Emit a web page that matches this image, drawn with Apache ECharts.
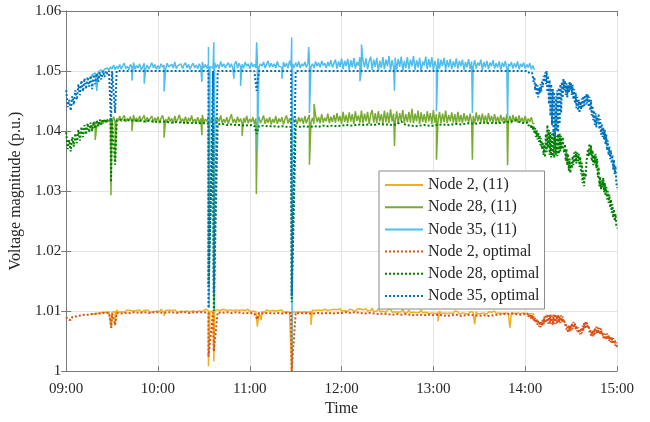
<!DOCTYPE html>
<html><head><meta charset="utf-8">
<script src="https://cdn.jsdelivr.net/npm/echarts@6/dist/echarts.min.js"></script>
<style>html,body{margin:0;padding:0;background:#fff}#c{width:650px;height:422px}</style>
</head><body><div id="c"></div>
<script>
const xTickLabels = ['09:00','10:00','11:00','12:00','13:00','14:00','15:00'];
const yTickLabels = ['1','1.01','1.02','1.03','1.04','1.05','1.06'];
const seriesNames = ['Node 2, (11)','Node 28, (11)','Node 35, (11)','Node 2, optimal','Node 28, optimal','Node 35, optimal'];

// (11) series: one value per minute after 09:00, minutes 16..306
const t11Start = 16, t11Step = 1;
const node35_11 = [
1.0488,1.0494,1.0491,1.0497,1.0495,1.0499,1.0496,1.0502,1.0498,1.0503,
1.0500,1.0505,1.0501,1.0507,1.0503,1.0510,1.0502,1.0508,1.0504,1.0511,
1.0503,1.0509,1.0513,1.0504,1.0508,1.0502,1.0511,1.0506,1.0514,1.0503,
1.0509,1.0505,1.0512,1.0502,1.0507,1.0513,1.0504,1.0510,1.0503,1.0508,
1.0514,1.0505,1.0511,1.0503,1.0509,1.0504,1.0512,1.0506,1.0510,1.0503,
1.0513,1.0507,1.0504,1.0511,1.0505,1.0515,1.0504,1.0509,1.0506,1.0512,
1.0504,1.0510,1.0514,1.0505,1.0511,1.0503,1.0509,1.0513,1.0505,1.0510,
1.0504,1.0512,1.0506,1.0515,1.0505,1.0511,1.0504,1.0513,1.0507,1.0510,
1.0505,1.0514,1.0506,1.0511,1.0504,1.0516,1.0507,1.0512,1.0505,1.0510,
1.0514,1.0506,1.0512,1.0504,1.0511,1.0516,1.0505,1.0513,1.0507,1.0511,
1.0505,1.0515,1.0508,1.0512,1.0504,1.0514,1.0507,1.0511,1.0505,1.0516,
1.0506,1.0512,1.0508,1.0515,1.0505,1.0511,1.0517,1.0506,1.0513,1.0507,
1.0512,1.0505,1.0516,1.0508,1.0511,1.0506,1.0515,1.0507,1.0513,1.0505,
1.0517,1.0508,1.0512,1.0506,1.0514,1.0507,1.0516,1.0505,1.0512,1.0508,
1.0515,1.0506,1.0513,1.0518,1.0507,1.0512,1.0505,1.0516,1.0508,1.0514,
1.0506,1.0517,1.0509,1.0513,1.0505,1.0515,1.0508,1.0518,1.0506,1.0513,
1.0519,1.0504,1.0516,1.0507,1.0521,1.0503,1.0517,1.0508,1.0520,1.0502,
1.0518,1.0506,1.0522,1.0504,1.0515,1.0509,1.0523,1.0501,1.0518,1.0506,
1.0521,1.0503,1.0516,1.0524,1.0502,1.0519,1.0507,1.0522,1.0500,1.0517,
1.0505,1.0523,1.0503,1.0519,1.0508,1.0525,1.0501,1.0518,1.0506,1.0522,
1.0502,1.0520,1.0507,1.0524,1.0500,1.0517,1.0505,1.0523,1.0503,1.0519,
1.0508,1.0525,1.0502,1.0518,1.0506,1.0522,1.0499,1.0516,1.0509,1.0524,
1.0503,1.0520,1.0506,1.0523,1.0501,1.0517,1.0507,1.0521,1.0504,1.0519,
1.0508,1.0522,1.0502,1.0518,1.0506,1.0520,1.0503,1.0516,1.0507,1.0521,
1.0504,1.0517,1.0508,1.0519,1.0502,1.0515,1.0506,1.0520,1.0503,1.0516,
1.0507,1.0518,1.0504,1.0514,1.0509,1.0519,1.0502,1.0515,1.0506,1.0517,
1.0503,1.0514,1.0508,1.0518,1.0504,1.0513,1.0506,1.0516,1.0502,1.0514,
1.0507,1.0517,1.0503,1.0512,1.0508,1.0515,1.0504,1.0513,1.0506,1.0516,
1.0503,1.0512,1.0507,1.0514,1.0504,1.0511,1.0506,1.0513,1.0503,1.0509,
1.0502];
const node28_11 = [
1.0402,1.0408,1.0405,1.0411,1.0408,1.0414,1.0410,1.0416,1.0412,1.0418,
1.0414,1.0420,1.0415,1.0422,1.0416,1.0424,1.0415,1.0421,1.0417,1.0425,
1.0416,1.0422,1.0426,1.0415,1.0421,1.0417,1.0424,1.0414,1.0427,1.0416,
1.0422,1.0415,1.0425,1.0417,1.0420,1.0426,1.0414,1.0423,1.0416,1.0421,
1.0425,1.0414,1.0422,1.0416,1.0424,1.0413,1.0421,1.0426,1.0415,1.0420,
1.0414,1.0424,1.0416,1.0421,1.0413,1.0425,1.0415,1.0420,1.0427,1.0414,
1.0421,1.0415,1.0424,1.0413,1.0422,1.0416,1.0426,1.0414,1.0420,1.0415,
1.0423,1.0413,1.0421,1.0427,1.0414,1.0420,1.0416,1.0425,1.0413,1.0422,
1.0415,1.0424,1.0412,1.0421,1.0416,1.0426,1.0413,1.0420,1.0414,1.0423,
1.0412,1.0421,1.0428,1.0414,1.0420,1.0413,1.0424,1.0415,1.0421,1.0412,
1.0422,1.0414,1.0425,1.0413,1.0420,1.0415,1.0423,1.0412,1.0421,1.0414,
1.0424,1.0413,1.0419,1.0426,1.0412,1.0421,1.0414,1.0423,1.0411,1.0420,
1.0414,1.0425,1.0412,1.0421,1.0415,1.0423,1.0411,1.0420,1.0426,1.0413,
1.0421,1.0412,1.0424,1.0414,1.0420,1.0411,1.0423,1.0415,1.0422,1.0412,
1.0425,1.0413,1.0421,1.0427,1.0414,1.0422,1.0412,1.0426,1.0415,1.0423,
1.0413,1.0428,1.0414,1.0422,1.0416,1.0429,1.0413,1.0424,1.0415,1.0427,
1.0414,1.0430,1.0416,1.0425,1.0412,1.0432,1.0415,1.0427,1.0413,1.0431,
1.0416,1.0428,1.0412,1.0433,1.0417,1.0426,1.0414,1.0434,1.0413,1.0429,
1.0416,1.0432,1.0412,1.0427,1.0435,1.0414,1.0430,1.0413,1.0433,1.0416,
1.0428,1.0412,1.0434,1.0415,1.0431,1.0413,1.0436,1.0416,1.0429,1.0414,
1.0433,1.0412,1.0430,1.0417,1.0435,1.0413,1.0428,1.0415,1.0432,1.0414,
1.0437,1.0413,1.0429,1.0416,1.0434,1.0412,1.0431,1.0415,1.0428,1.0413,
1.0433,1.0416,1.0430,1.0412,1.0435,1.0414,1.0428,1.0416,1.0432,1.0413,
1.0429,1.0415,1.0434,1.0413,1.0427,1.0416,1.0431,1.0414,1.0428,1.0412,
1.0432,1.0415,1.0427,1.0413,1.0430,1.0416,1.0426,1.0414,1.0429,1.0415,
1.0425,1.0413,1.0431,1.0416,1.0427,1.0414,1.0429,1.0415,1.0426,1.0413,
1.0430,1.0416,1.0425,1.0414,1.0428,1.0415,1.0424,1.0413,1.0427,1.0416,
1.0423,1.0414,1.0428,1.0415,1.0425,1.0413,1.0427,1.0416,1.0424,1.0414,
1.0426,1.0415,1.0422,1.0414,1.0425,1.0413,1.0421,1.0415,1.0423,1.0413,
1.0412];
const node2_11 = [
1.0094,1.0097,1.0095,1.0098,1.0096,1.0099,1.0097,1.0100,1.0098,1.0100,
1.0098,1.0101,1.0099,1.0100,1.0098,1.0101,1.0099,1.0102,1.0098,1.0100,
1.0099,1.0101,1.0098,1.0100,1.0102,1.0099,1.0101,1.0098,1.0100,1.0099,
1.0101,1.0099,1.0102,1.0098,1.0100,1.0101,1.0099,1.0102,1.0100,1.0098,
1.0101,1.0099,1.0102,1.0100,1.0101,1.0099,1.0103,1.0100,1.0098,1.0101,
1.0099,1.0102,1.0100,1.0101,1.0099,1.0102,1.0100,1.0098,1.0101,1.0100,
1.0102,1.0099,1.0101,1.0100,1.0103,1.0099,1.0101,1.0100,1.0102,1.0099,
1.0101,1.0100,1.0102,1.0099,1.0101,1.0103,1.0100,1.0101,1.0099,1.0102,
1.0100,1.0101,1.0099,1.0102,1.0100,1.0101,1.0099,1.0103,1.0100,1.0101,
1.0099,1.0102,1.0100,1.0101,1.0098,1.0102,1.0100,1.0101,1.0099,1.0102,
1.0100,1.0101,1.0098,1.0103,1.0099,1.0101,1.0100,1.0102,1.0099,1.0100,
1.0098,1.0101,1.0099,1.0100,1.0098,1.0102,1.0099,1.0100,1.0098,1.0101,
1.0099,1.0100,1.0098,1.0101,1.0099,1.0102,1.0098,1.0100,1.0099,1.0101,
1.0098,1.0100,1.0099,1.0101,1.0098,1.0100,1.0099,1.0102,1.0098,1.0100,
1.0099,1.0101,1.0098,1.0100,1.0099,1.0102,1.0100,1.0101,1.0099,1.0102,
1.0100,1.0101,1.0099,1.0103,1.0100,1.0101,1.0099,1.0102,1.0100,1.0103,
1.0100,1.0102,1.0099,1.0104,1.0100,1.0102,1.0101,1.0104,1.0099,1.0103,
1.0100,1.0102,1.0105,1.0099,1.0103,1.0100,1.0104,1.0101,1.0102,1.0099,
1.0104,1.0100,1.0103,1.0101,1.0105,1.0099,1.0102,1.0100,1.0104,1.0099,
1.0102,1.0100,1.0103,1.0098,1.0102,1.0099,1.0104,1.0098,1.0101,1.0099,
1.0102,1.0098,1.0101,1.0099,1.0103,1.0097,1.0100,1.0098,1.0102,1.0097,
1.0100,1.0098,1.0101,1.0097,1.0100,1.0098,1.0102,1.0097,1.0099,1.0098,
1.0101,1.0096,1.0099,1.0097,1.0100,1.0096,1.0099,1.0097,1.0100,1.0096,
1.0098,1.0097,1.0100,1.0096,1.0099,1.0097,1.0098,1.0096,1.0100,1.0097,
1.0099,1.0095,1.0098,1.0097,1.0099,1.0096,1.0098,1.0095,1.0099,1.0096,
1.0098,1.0097,1.0099,1.0095,1.0098,1.0096,1.0099,1.0097,1.0098,1.0095,
1.0099,1.0096,1.0098,1.0097,1.0100,1.0096,1.0098,1.0097,1.0099,1.0096,
1.0098,1.0097,1.0099,1.0096,1.0098,1.0097,1.0100,1.0096,1.0099,1.0097,
1.0098,1.0096,1.0099,1.0097,1.0098,1.0096,1.0097,1.0095,1.0097,1.0096,
1.0094];

// short transients of the (11) series: [minute, value]
const spikes35_11 = [[20,1.0467],[43,1.0484],[51,1.0479],[64,1.0466],[88.7,1.0482],[93,1.0540],[93.4,1.0105],[96.5,1.0548],[96.9,1.0100],[109.6,1.0487],[114,1.0475],[124.5,1.0548],[125,1.0367],[141,1.0487],[147.4,1.0556],[147.6,1.0010],[158.5,1.0540],[159,1.0430],[192,1.0483],[193,1.0544],[214.6,1.0467],[242,1.0433],[265.5,1.0430],[288.5,1.0421]];
const spikes28_11 = [[19,1.0385],[29.3,1.0293],[32,1.0350],[43,1.0400],[64,1.0389],[88.7,1.0393],[96.5,1.0120],[115,1.0392],[124.3,1.0295],[159,1.0344],[162,1.0445],[214.6,1.0375],[242,1.0352],[265.5,1.0352],[288.5,1.0343]];
const spikes2_11 = [[29.5,1.0072],[32,1.0076],[64,1.0092],[93,1.0008],[96.5,1.0016],[125,1.0074],[127.5,1.0085],[147.4,1.0000],[160,1.0077],[243,1.0083],[267,1.0078],[290,1.0072]];

// optimal series: minutes 0..29 every 1 min, 30..300 every 3 min, 300.5..360 every 0.5 min
const node35_opt = [
1.0468,1.0440,1.0452,1.0434,1.0458,1.0444,1.0468,1.0452,1.0478,1.0460,
1.0484,1.0466,1.0488,1.0470,1.0490,1.0474,1.0492,1.0470,1.0494,1.0478,
1.0496,1.0482,1.0498,1.0486,1.0500,1.0490,1.0500,1.0495,1.0500,1.0499,
1.0500,1.0500,1.0500,1.0500,1.0500,1.0500,1.0500,1.0500,1.0500,1.0500,
1.0500,1.0500,1.0500,1.0500,1.0500,1.0500,1.0500,1.0500,1.0500,1.0500,
1.0500,1.0500,1.0500,1.0500,1.0500,1.0500,1.0500,1.0500,1.0500,1.0500,
1.0500,1.0500,1.0500,1.0500,1.0500,1.0500,1.0500,1.0500,1.0500,1.0500,
1.0500,1.0500,1.0500,1.0500,1.0500,1.0500,1.0500,1.0500,1.0500,1.0500,
1.0500,1.0500,1.0500,1.0500,1.0500,1.0500,1.0500,1.0500,1.0500,1.0500,
1.0500,1.0500,1.0500,1.0500,1.0500,1.0500,1.0500,1.0500,1.0500,1.0500,
1.0500,1.0500,1.0500,1.0500,1.0500,1.0500,1.0500,1.0500,1.0500,1.0500,
1.0500,1.0500,1.0500,1.0500,1.0500,1.0500,1.0500,1.0500,1.0500,1.0500,
1.0500,
1.0500,1.0499,1.0500,1.0497,1.0500,1.0496,1.0499,1.0494,1.0497,1.0490,
1.0482,1.0490,1.0468,1.0480,1.0460,1.0476,1.0456,1.0472,1.0463,1.0478,
1.0466,1.0484,1.0473,1.0492,1.0482,1.0498,1.0478,1.0500,1.0465,1.0492,
1.0445,1.0485,1.0425,1.0478,1.0410,1.0470,1.0395,1.0465,1.0390,1.0458,
1.0400,1.0468,1.0398,1.0472,1.0412,1.0478,1.0430,1.0482,1.0455,1.0487,
1.0468,1.0484,1.0460,1.0480,1.0456,1.0476,1.0464,1.0482,1.0468,1.0480,
1.0460,1.0477,1.0453,1.0470,1.0446,1.0464,1.0438,1.0457,1.0434,1.0452,
1.0430,1.0449,1.0436,1.0454,1.0438,1.0458,1.0442,1.0460,1.0444,1.0462,
1.0446,1.0461,1.0440,1.0457,1.0434,1.0452,1.0426,1.0442,1.0418,1.0434,
1.0410,1.0430,1.0406,1.0424,1.0413,1.0429,1.0403,1.0420,1.0394,1.0412,
1.0390,1.0406,1.0386,1.0402,1.0378,1.0394,1.0368,1.0384,1.0360,1.0374,
1.0353,1.0368,1.0346,1.0360,1.0336,1.0352,1.0328,1.0342,1.0316,1.0305];
const node28_opt = [
1.0398,1.0370,1.0385,1.0366,1.0390,1.0374,1.0396,1.0380,1.0402,1.0384,
1.0407,1.0390,1.0410,1.0394,1.0413,1.0398,1.0414,1.0400,1.0416,1.0404,
1.0418,1.0408,1.0419,1.0411,1.0420,1.0414,1.0420,1.0416,1.0419,1.0418,
1.0418,1.0417,1.0419,1.0418,1.0418,1.0417,1.0417,1.0416,1.0417,1.0416,
1.0415,1.0416,1.0415,1.0414,1.0415,1.0414,1.0414,1.0413,1.0414,1.0413,
1.0413,1.0412,1.0413,1.0411,1.0412,1.0410,1.0411,1.0410,1.0410,1.0409,
1.0410,1.0409,1.0408,1.0409,1.0408,1.0408,1.0407,1.0408,1.0407,1.0407,
1.0408,1.0407,1.0408,1.0407,1.0408,1.0407,1.0409,1.0408,1.0409,1.0408,
1.0409,1.0410,1.0409,1.0410,1.0411,1.0410,1.0411,1.0410,1.0412,1.0411,
1.0411,1.0410,1.0411,1.0416,1.0410,1.0409,1.0408,1.0409,1.0410,1.0409,
1.0409,1.0410,1.0411,1.0410,1.0411,1.0412,1.0411,1.0412,1.0413,1.0412,
1.0413,1.0414,1.0413,1.0414,1.0413,1.0414,1.0415,1.0416,1.0418,1.0414,
1.0413,
1.0413,1.0410,1.0414,1.0409,1.0412,1.0407,1.0411,1.0404,1.0410,1.0402,
1.0408,1.0396,1.0405,1.0390,1.0401,1.0386,1.0397,1.0382,1.0393,1.0376,
1.0388,1.0370,1.0382,1.0360,1.0377,1.0356,1.0395,1.0365,1.0410,1.0372,
1.0402,1.0360,1.0398,1.0356,1.0395,1.0358,1.0400,1.0355,1.0396,1.0360,
1.0392,1.0358,1.0395,1.0362,1.0396,1.0366,1.0392,1.0370,1.0390,1.0372,
1.0364,1.0378,1.0350,1.0370,1.0343,1.0362,1.0334,1.0354,1.0330,1.0348,
1.0338,1.0358,1.0343,1.0364,1.0348,1.0366,1.0346,1.0364,1.0350,1.0362,
1.0340,1.0357,1.0328,1.0347,1.0313,1.0334,1.0308,1.0330,1.0323,1.0347,
1.0348,1.0370,1.0358,1.0379,1.0360,1.0376,1.0350,1.0368,1.0343,1.0360,
1.0346,1.0362,1.0338,1.0354,1.0323,1.0340,1.0308,1.0324,1.0303,1.0318,
1.0306,1.0322,1.0298,1.0314,1.0292,1.0307,1.0286,1.0300,1.0280,1.0294,
1.0272,1.0286,1.0264,1.0278,1.0256,1.0270,1.0250,1.0262,1.0244,1.0238];
const node2_opt = [
1.0090,1.0086,1.0088,1.0085,1.0090,1.0087,1.0091,1.0088,1.0092,1.0089,
1.0093,1.0090,1.0094,1.0091,1.0094,1.0092,1.0095,1.0093,1.0095,1.0093,
1.0096,1.0094,1.0096,1.0095,1.0097,1.0095,1.0097,1.0096,1.0097,1.0097,
1.0096,1.0097,1.0096,1.0097,1.0097,1.0098,1.0097,1.0098,1.0097,1.0098,
1.0098,1.0097,1.0098,1.0098,1.0097,1.0098,1.0098,1.0097,1.0098,1.0098,
1.0098,1.0097,1.0098,1.0098,1.0097,1.0098,1.0097,1.0098,1.0097,1.0096,
1.0097,1.0096,1.0097,1.0096,1.0097,1.0096,1.0097,1.0096,1.0097,1.0097,
1.0097,1.0096,1.0097,1.0096,1.0096,1.0097,1.0096,1.0097,1.0096,1.0097,
1.0097,1.0098,1.0097,1.0098,1.0097,1.0096,1.0097,1.0096,1.0095,1.0096,
1.0095,1.0094,1.0095,1.0094,1.0095,1.0094,1.0093,1.0094,1.0093,1.0094,
1.0093,1.0094,1.0093,1.0092,1.0093,1.0094,1.0092,1.0093,1.0094,1.0093,
1.0092,1.0093,1.0092,1.0093,1.0094,1.0095,1.0095,1.0096,1.0095,1.0094,
1.0095,
1.0097,1.0092,1.0096,1.0090,1.0095,1.0089,1.0094,1.0087,1.0093,1.0086,
1.0091,1.0083,1.0089,1.0080,1.0087,1.0077,1.0085,1.0074,1.0083,1.0073,
1.0083,1.0075,1.0087,1.0078,1.0091,1.0080,1.0094,1.0081,1.0095,1.0079,
1.0093,1.0078,1.0094,1.0079,1.0092,1.0077,1.0094,1.0079,1.0095,1.0078,
1.0093,1.0079,1.0094,1.0081,1.0092,1.0080,1.0093,1.0082,1.0091,1.0081,
1.0086,1.0076,1.0080,1.0069,1.0074,1.0064,1.0076,1.0066,1.0077,1.0068,
1.0080,1.0070,1.0082,1.0072,1.0080,1.0069,1.0076,1.0066,1.0073,1.0063,
1.0070,1.0061,1.0072,1.0063,1.0076,1.0067,1.0080,1.0071,1.0083,1.0073,
1.0081,1.0071,1.0076,1.0065,1.0069,1.0059,1.0067,1.0058,1.0069,1.0060,
1.0072,1.0062,1.0074,1.0063,1.0073,1.0063,1.0072,1.0061,1.0071,1.0061,
1.0065,1.0055,1.0063,1.0053,1.0062,1.0052,1.0063,1.0053,1.0060,1.0050,
1.0058,1.0048,1.0057,1.0047,1.0055,1.0045,1.0052,1.0042,1.0048,1.0040];
const spikes35_opt = [[29.3,1.0416],[32,1.0430],[93,1.0105],[96.5,1.0130],[124.5,1.0467],[147.4,1.0125]];
const spikes28_opt = [[29.3,1.0315],[32,1.0344],[93,1.0140],[96.5,1.0100],[124.5,1.0395],[147.4,1.0115]];
const spikes2_opt = [[29.5,1.0072],[32,1.0077],[93,1.0024],[96.5,1.0033],[125,1.0086],[147.4,1.0000]];

const times11 = node2_11.map((_, i) => t11Start + i * t11Step);
const timesOpt = [];
for (let t = 0; t <= 29; t += 1) timesOpt.push(t);
for (let t = 30; t <= 300; t += 3) timesOpt.push(t);
for (let k = 1; k <= 120; k++) timesOpt.push(300 + k * 0.5);

function build(times, vals, spikes) {
  const pts = times.map((t, i) => [t, vals[i]]);
  spikes.forEach(s => pts.push(s));
  pts.sort((a, b) => a[0] - b[0]);
  return pts;
}

const FONT = 'Liberation Serif';
const colors = ['#EDB120', '#77AC30', '#4DBEEE', '#D95319', '#008000', '#0072BD'];
const dataSets = [
  build(times11, node2_11, spikes2_11),
  build(times11, node28_11, spikes28_11),
  build(times11, node35_11, spikes35_11),
  build(timesOpt, node2_opt, spikes2_opt),
  build(timesOpt, node28_opt, spikes28_opt),
  build(timesOpt, node35_opt, spikes35_opt)
];

const series = seriesNames.map((name, k) => ({
  name: name,
  type: 'line',
  data: dataSets[k],
  symbol: 'none',
  showSymbol: false,
  color: colors[k],
  lineStyle: k < 3 ? { width: 1.5, color: colors[k] } : { width: 2, color: colors[k], type: [2, 2] },
  z: 2 + k,
  animation: false
}));

const axisLineStyle = { color: '#7a7a7a', width: 1 };
const chart = echarts.init(document.getElementById('c'), null, { renderer: 'canvas' });
chart.setOption({
  animation: false,
  backgroundColor: '#fff',
  grid: { left: 64, right: 33, top: 11, bottom: 45, containLabel: false },
  legend: {
    orient: 'vertical', left: 379, top: 171,
    itemWidth: 38, itemHeight: 16, itemGap: 6.2,
    padding: [6, 5, 5, 5],
    itemStyle: { opacity: 0, borderWidth: 0 },
    backgroundColor: '#fff', borderColor: '#8a8a8a', borderWidth: 1, borderRadius: 0,
    textStyle: { fontFamily: FONT, fontSize: 16, color: '#262626' },
    data: seriesNames
  },
  xAxis: [{
    type: 'value', min: 0, max: 360, interval: 60,
    name: 'Time', nameLocation: 'middle', nameGap: 29,
    nameTextStyle: { fontFamily: FONT, fontSize: 16, color: '#262626' },
    axisLine: { show: true, lineStyle: axisLineStyle },
    axisTick: { show: true, inside: true, length: 5, lineStyle: axisLineStyle },
    axisLabel: { fontFamily: FONT, fontSize: 15, color: '#262626', margin: 10,
      formatter: v => xTickLabels[Math.round(v / 60)] },
    splitLine: { show: true, lineStyle: { color: '#e4e4e4', width: 1 } }
  }, {
    type: 'value', min: 0, max: 360, interval: 60, position: 'top',
    axisLine: { show: true, lineStyle: axisLineStyle },
    axisTick: { show: true, inside: true, length: 5, lineStyle: axisLineStyle },
    axisLabel: { show: false }, splitLine: { show: false }
  }],
  yAxis: [{
    type: 'value', min: 1, max: 1.06, interval: 0.01,
    name: 'Voltage magnitude (p.u.)', nameLocation: 'middle', nameGap: 33,
    nameTextStyle: { fontFamily: FONT, fontSize: 16, color: '#262626' },
    axisLine: { show: true, lineStyle: axisLineStyle },
    axisTick: { show: true, inside: true, length: 5, lineStyle: axisLineStyle },
    axisLabel: { fontFamily: FONT, fontSize: 15, color: '#262626', margin: 5,
      formatter: v => yTickLabels[Math.round((v - 1) / 0.01)] },
    splitLine: { show: true, lineStyle: { color: '#e4e4e4', width: 1 } }
  }, {
    type: 'value', min: 1, max: 1.06, interval: 0.01, position: 'right',
    axisLine: { show: true, lineStyle: axisLineStyle },
    axisTick: { show: true, inside: true, length: 5, lineStyle: axisLineStyle },
    axisLabel: { show: false }, splitLine: { show: false }
  }],
  series: series
});
</script></body></html>
